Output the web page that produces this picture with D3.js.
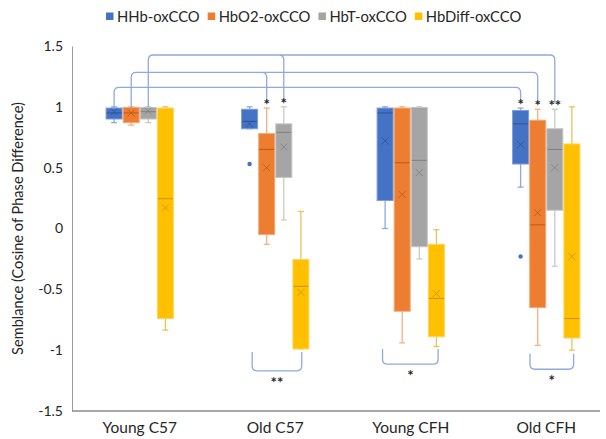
<!DOCTYPE html>
<html><head><meta charset="utf-8">
<script src="https://cdn.jsdelivr.net/npm/d3@7"></script>
<style>
body{margin:0;background:#fff}
svg{display:block}
text{font-family:Lato,"Open Sans",sans-serif;fill:#262626}
</style>
</head><body><svg id="c" width="606" height="439"></svg>
<script>
// ---------- data ----------
const categories = ["Young C57", "Old C57", "Young CFH", "Old CFH"];
const seriesNames = ["HHb-oxCCO", "HbO2-oxCCO", "HbT-oxCCO", "HbDiff-oxCCO"];
const yTicks = [-1.5, -1, -0.5, 0, 0.5, 1, 1.5];

// per series, per category: whisker low, Q1, median, Q3, whisker high, mean
const hhbMin  = [0.87, 0.82, 0.00, 0.34];
const hhbQ1   = [0.90, 0.82, 0.23, 0.53];
const hhbMed  = [0.95, 0.88, 0.95, 0.86];
const hhbQ3   = [0.99, 0.98, 0.99, 0.97];
const hhbMax  = [1.00, 1.00, 1.00, 0.99];
const hhbMean = [0.96, 0.86, 0.72, 0.69];
const hhbOut  = [[], [0.53], [], [-0.23]];

const o2Min  = [0.85, -0.13, -0.94, -0.96];
const o2Q1   = [0.87, -0.05, -0.68, -0.65];
const o2Med  = [0.95, 0.65, 0.54, 0.03];
const o2Q3   = [0.995, 0.78, 0.99, 0.89];
const o2Max  = [1.00, 0.99, 1.00, 0.98];
const o2Mean = [0.95, 0.50, 0.28, 0.13];
const o2Out  = [[], [], [], []];

const tMin  = [0.87, 0.07, -0.25, -0.31];
const tQ1   = [0.90, 0.42, -0.15, 0.15];
const tMed  = [0.96, 0.79, 0.56, 0.65];
const tQ3   = [0.995, 0.86, 0.995, 0.82];
const tMax  = [1.00, 1.00, 1.00, 0.98];
const tMean = [0.965, 0.67, 0.46, 0.50];
const tOut  = [[], [], [], []];

const dMin  = [-0.835, -0.99, -0.97, -1.00];
const dQ1   = [-0.74, -0.99, -0.89, -0.90];
const dMed  = [0.245, -0.475, -0.575, -0.74];
const dQ3   = [0.99, -0.255, -0.13, 0.695];
const dMax  = [1.00, 0.14, -0.01, 1.00];
const dMean = [0.17, -0.525, -0.535, -0.23];
const dOut  = [[], [], [], []];

// significance brackets above (level value, [category, series] drops)
const topLevels = [1.16, 1.284, 1.426];
const topDrops = [
  [[0, 0], [3, 0]],
  [[0, 1], [1, 1], [3, 1]],
  [[0, 2], [1, 2], [3, 2]]
];
const stars = [[1, 1, "*"], [1, 2, "*"], [3, 0, "*"], [3, 1, "*"], [3, 2, "**"]];
// brackets below: category, from series pos, to series pos, top value, bottom value, label
const bottomBrackets = [
  [1, 0.15, 3.05, -1.015, -1.17, "**"],
  [2, -0.15, 3.1, -0.99, -1.115, "*"],
  [3, 0.55, 3.1, -1.03, -1.157, "*"]
];

// ---------- styles ----------
const fillC   = ["#4472c4", "#ed7d31", "#a5a5a5", "#ffc000"];
const edgeC   = ["#7e9dd6", "#f3a774", "#c4c4c4", "#ffd45c"];
const darkC   = ["#2f5597", "#c0580f", "#7f7f7f", "#c69400"];
const whiskC  = ["#8eaadb", "#f4b183", "#c9c9c9", "#e9c35a"];
const bracketC = "#8faadc";

const series = [
  [hhbMin, hhbQ1, hhbMed, hhbQ3, hhbMax, hhbMean, hhbOut],
  [o2Min, o2Q1, o2Med, o2Q3, o2Max, o2Mean, o2Out],
  [tMin, tQ1, tMed, tQ3, tMax, tMean, tOut],
  [dMin, dQ1, dMed, dQ3, dMax, dMean, dOut]
];

const svg = d3.select("#c");
const y = d3.scaleLinear().domain([-1.5, 1.5]).range([411, 46]);
const x = d3.scaleBand().domain(categories).range([72, 614]).padding(0);
const inner = d3.scaleLinear().domain([0, 3]).range([-25.65, 25.65]);
const bw = 16, cap = 6;
const cx = (g, s) => x(categories[g]) + x.bandwidth() / 2 + inner(s);

// axes
const yAxis = d3.axisLeft(y).tickValues(yTicks).tickSize(0).tickPadding(9)
  .tickFormat(d => String(d));
const ya = svg.append("g").attr("transform", "translate(72,0)").call(yAxis);
ya.select(".domain").attr("stroke", "#9a9a9a").attr("stroke-width", 1);
ya.selectAll("text").style("font-size", "14px").attr("fill", "#262626");

svg.append("line").attr("x1", 72).attr("x2", 600).attr("y1", y(-1.5)).attr("y2", y(-1.5))
  .attr("stroke", "#8a8a8a").attr("stroke-width", 1.5);

const xa = svg.append("g").attr("transform", `translate(0,${y(-1.5)})`)
  .call(d3.axisBottom(x).tickSize(0).tickPadding(11));
xa.select(".domain").remove();
xa.selectAll("text").style("font-size", "15.5px").attr("fill", "#262626");

svg.append("text")
  .attr("transform", `translate(23,${(y(1.5) + y(-1.5)) / 2}) rotate(-90)`)
  .attr("text-anchor", "middle").style("font-size", "14.6px")
  .text("Semblance (Cosine of Phase Difference)");

// boxes
series.forEach((st, s) => {
  const [mn, q1, md, q3, mx, mean, out] = st;
  const g = svg.append("g");
  categories.forEach((c, i) => {
    const xc = cx(i, s);
    // whiskers
    g.append("line").attr("x1", xc).attr("x2", xc).attr("y1", y(mx[i])).attr("y2", y(q3[i]))
      .attr("stroke", whiskC[s]).attr("stroke-width", 1.3);
    g.append("line").attr("x1", xc).attr("x2", xc).attr("y1", y(q1[i])).attr("y2", y(mn[i]))
      .attr("stroke", whiskC[s]).attr("stroke-width", 1.3);
    [mx[i], mn[i]].forEach(v => {
      g.append("line").attr("x1", xc - cap / 2).attr("x2", xc + cap / 2)
        .attr("y1", y(v)).attr("y2", y(v)).attr("stroke", whiskC[s]).attr("stroke-width", 1.3);
    });
    // box
    g.append("rect").attr("x", xc - bw / 2).attr("width", bw)
      .attr("y", y(q3[i])).attr("height", Math.max(1, y(q1[i]) - y(q3[i])))
      .attr("fill", fillC[s]).attr("stroke", edgeC[s]).attr("stroke-width", 1);
    // median
    g.append("line").attr("x1", xc - bw / 2 + 0.5).attr("x2", xc + bw / 2 - 0.5)
      .attr("y1", y(md[i])).attr("y2", y(md[i])).attr("stroke", darkC[s]).attr("stroke-width", 1);
    // mean x
    const my = y(mean[i]), r = 3.5;
    g.append("path").attr("d", `M${xc - r},${my - r}L${xc + r},${my + r}M${xc - r},${my + r}L${xc + r},${my - r}`)
      .attr("stroke", darkC[s]).attr("stroke-width", 1).attr("fill", "none").attr("opacity", 0.8);
    // outliers
    out[i].forEach(v => {
      g.append("circle").attr("cx", xc).attr("cy", y(v)).attr("r", 2.2).attr("fill", fillC[s]);
    });
  });
});

// significance asterisks positions
const starY = (g, s) => y(series[s][4][g]) - 6;
const dropEnd = (g, s) => g === 0 ? y(series[s][3][g]) : starY(g, s);

// top brackets
const rad = 5;
topLevels.forEach((lv, k) => {
  const ly = y(lv);
  const drops = topDrops[k];
  const xs = drops.map(d => cx(d[0], d[1]));
  const x0 = xs[0], x1 = xs[xs.length - 1];
  const y0 = dropEnd(drops[0][0], drops[0][1]);
  const y1 = dropEnd(drops[drops.length - 1][0], drops[drops.length - 1][1]);
  const p = d3.path();
  p.moveTo(x0, y0); p.lineTo(x0, ly + rad); p.quadraticCurveTo(x0, ly, x0 + rad, ly);
  p.lineTo(x1 - rad, ly); p.quadraticCurveTo(x1, ly, x1, ly + rad); p.lineTo(x1, y1);
  for (let j = 1; j < drops.length - 1; j++) {
    const xm = xs[j];
    p.moveTo(xm - rad, ly); p.quadraticCurveTo(xm, ly, xm, ly + rad);
    p.lineTo(xm, dropEnd(drops[j][0], drops[j][1]));
  }
  svg.append("path").attr("d", p.toString()).attr("fill", "none")
    .attr("stroke", bracketC).attr("stroke-width", 1.3);
});

stars.forEach(([g, s, t]) => {
  svg.append("text").attr("x", cx(g, s)).attr("y", starY(g, s) + 8)
    .attr("text-anchor", "middle").style("font-size", "15px").attr("fill", "#222")
    .style("font-weight", "bold").text(t);
});

// bottom brackets
bottomBrackets.forEach(([g, s0, s1, top, bot, label]) => {
  const xa0 = cx(g, s0), xa1 = cx(g, s1), yt = y(top), yb = y(bot);
  const p = d3.path();
  p.moveTo(xa0, yt); p.lineTo(xa0, yb - rad); p.quadraticCurveTo(xa0, yb, xa0 + rad, yb);
  p.lineTo(xa1 - rad, yb); p.quadraticCurveTo(xa1, yb, xa1, yb - rad); p.lineTo(xa1, yt);
  svg.append("path").attr("d", p.toString()).attr("fill", "none")
    .attr("stroke", bracketC).attr("stroke-width", 1.3);
  svg.append("text").attr("x", (xa0 + xa1) / 2).attr("y", yb + 17)
    .attr("text-anchor", "middle").style("font-size", "15px").attr("fill", "#222")
    .style("font-weight", "bold").text(label);
});

// legend
const legend = svg.append("g").attr("transform", "translate(106,0)");
let lx = 0;
seriesNames.forEach((n, i) => {
  const gg = legend.append("g").attr("transform", `translate(${lx},0)`);
  gg.append("rect").attr("x", 0).attr("y", 12.5).attr("width", 7.5).attr("height", 7.5).attr("fill", fillC[i]);
  const t = gg.append("text").attr("x", 11).attr("y", 21.5).style("font-size", "14.8px").text(n);
  lx += 11 + t.node().getComputedTextLength() + 8;
});
</script>
</body></html>
